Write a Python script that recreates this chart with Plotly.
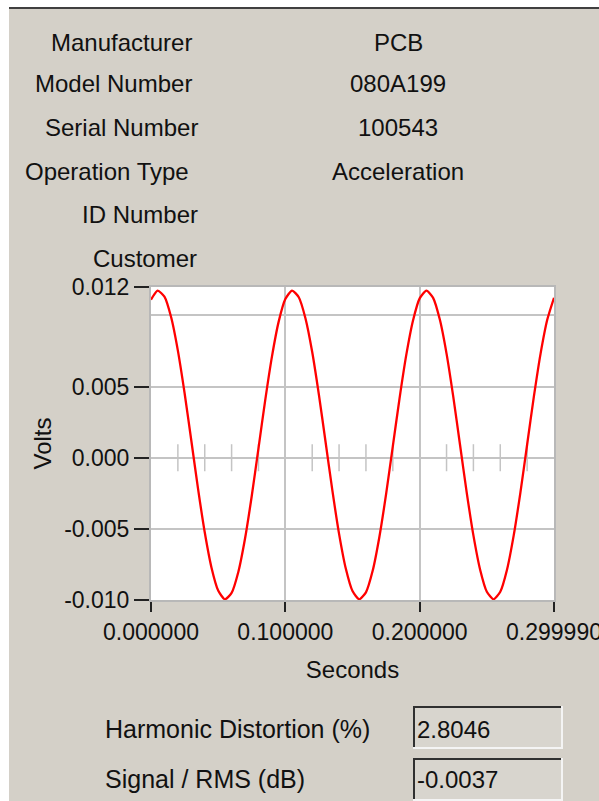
import plotly.graph_objects as go

# ---------------- data ----------------
info_labels = ["Manufacturer", "Model Number", "Serial Number", "Operation Type", "ID Number", "Customer"]
info_values = ["PCB", "080A199", "100543", "Acceleration", "", ""]

time_s = [round(i * 0.005, 3) for i in range(61)]
volts = [
    0.01111, 0.01174, 0.01132, 0.00987, 0.00753, 0.00455, 0.00121, -0.00217, -0.00524, -0.00771,
    -0.00933, -0.00995, -0.00950, -0.00803, -0.00568, -0.00269, 0.00066, 0.00403, 0.00709, 0.00955,
    0.01115, 0.01175, 0.01128, 0.00979, 0.00743, 0.00442, 0.00107, -0.00230, -0.00535, -0.00779,
    -0.00937, -0.00995, -0.00946, -0.00795, -0.00557, -0.00256, 0.00080, 0.00416, 0.00721, 0.00963,
    0.01120, 0.01175, 0.01124, 0.00971, 0.00732, 0.00429, 0.00093, -0.00243, -0.00546, -0.00787,
    -0.00942, -0.00995, -0.00942, -0.00787, -0.00546, -0.00243, 0.00093, 0.00429, 0.00732, 0.00971,
    0.01124,
]

x_tickvals = [0.0, 0.1, 0.2, 0.29999]
x_ticktext = ["0.000000", "0.100000", "0.200000", "0.299990"]
y_tickvals = [0.012, 0.005, 0.0, -0.005, -0.010]
y_ticktext = ["0.012", "0.005", "0.000", "-0.005", "-0.010"]
y_extra_grid = [0.010]
zero_marks_x = [0.02, 0.04, 0.06, 0.08, 0.12, 0.14, 0.16, 0.18, 0.22, 0.24, 0.26, 0.28]
zero_mark_half = 0.00095

result_labels = ["Harmonic Distortion (%)", "Signal / RMS (dB)"]
result_values = ["2.8046", "-0.0037"]

# ---------------- layout helpers ----------------
W, H = 599, 801
L, R, T, B = 151, 45, 287, 201
PW, PH = W - L - R, H - T - B
BG = "#d4d0c8"
FONT = "Liberation Sans"


def fx(px):
    return (px - L) / PW


def fy(py):
    return 1 - (py - T) / PH


fig = go.Figure()

# small marks on the zero line
zx, zy = [], []
for xv in zero_marks_x:
    zx += [xv, xv, None]
    zy += [-zero_mark_half, zero_mark_half, None]
fig.add_trace(go.Scatter(x=zx, y=zy, mode="lines", line=dict(color="#c4c4c4", width=1.5),
                         hoverinfo="skip", showlegend=False))

fig.add_trace(go.Scatter(x=time_s, y=volts, mode="lines",
                         line=dict(color="#ff0000", width=2.3, shape="spline", smoothing=0.6),
                         showlegend=False))

shapes = []
# window edges
shapes.append(dict(type="rect", xref="paper", yref="paper", x0=fx(0), x1=fx(W), y0=fy(0), y1=fy(7),
                   fillcolor="white", line=dict(width=0), layer="below"))
shapes.append(dict(type="rect", xref="paper", yref="paper", x0=fx(0), x1=fx(9), y0=fy(0), y1=fy(H),
                   fillcolor="white", line=dict(width=0), layer="below"))
shapes.append(dict(type="line", xref="paper", yref="paper", x0=fx(9), x1=fx(W), y0=fy(8), y1=fy(8),
                   line=dict(color="#404040", width=2)))

# result boxes
box_tops = [706, 758]
box_h = 43
for top in box_tops:
    x0, x1, y0, y1 = 413, 563, top, top + box_h
    shapes.append(dict(type="rect", xref="paper", yref="paper", x0=fx(x0), x1=fx(x1), y0=fy(y0), y1=fy(y1),
                       fillcolor="#d8d5ce", line=dict(width=0)))
    shapes.append(dict(type="line", xref="paper", yref="paper", x0=fx(x0), x1=fx(x1), y0=fy(y0 + 1), y1=fy(y0 + 1),
                       line=dict(color="#303030", width=2)))
    shapes.append(dict(type="line", xref="paper", yref="paper", x0=fx(x0 + 1), x1=fx(x0 + 1), y0=fy(y0), y1=fy(y1),
                       line=dict(color="#303030", width=2)))
    shapes.append(dict(type="line", xref="paper", yref="paper", x0=fx(x0), x1=fx(x1), y0=fy(y1 - 1), y1=fy(y1 - 1),
                       line=dict(color="#f4f4f4", width=2)))
    shapes.append(dict(type="line", xref="paper", yref="paper", x0=fx(x1 - 1), x1=fx(x1 - 1), y0=fy(y0), y1=fy(y1),
                       line=dict(color="#f4f4f4", width=2)))

annotations = []
label_right = [194, 194, 200, 191, 200, 199]
row_y = [42, 84, 127, 171, 214, 258]
for lab, val, xr, yy in zip(info_labels, info_values, label_right, row_y):
    annotations.append(dict(text=lab, xref="paper", yref="paper", x=fx(xr), y=fy(yy),
                            xanchor="right", yanchor="middle", showarrow=False,
                            font=dict(family=FONT, size=24, color="#111111")))
    if val:
        annotations.append(dict(text=val, xref="paper", yref="paper", x=fx(398), y=fy(yy),
                                xanchor="center", yanchor="middle", showarrow=False,
                                font=dict(family=FONT, size=24, color="#111111")))

res_y = [729, 779]
for lab, val, yy in zip(result_labels, result_values, res_y):
    annotations.append(dict(text=lab, xref="paper", yref="paper", x=fx(103), y=fy(yy),
                            xanchor="left", yanchor="middle", showarrow=False,
                            font=dict(family=FONT, size=25, color="#111111")))
    annotations.append(dict(text=val, xref="paper", yref="paper", x=fx(415), y=fy(yy),
                            xanchor="left", yanchor="middle", showarrow=False,
                            font=dict(family=FONT, size=24, color="#111111")))

fig.update_layout(
    width=W, height=H,
    margin=dict(l=L, r=R, t=T, b=B, autoexpand=False),
    paper_bgcolor=BG, plot_bgcolor="white",
    font=dict(family=FONT, size=23, color="#111111"),
    shapes=shapes, annotations=annotations,
    xaxis=dict(range=[0, 0.29999], tickmode="array", tickvals=x_tickvals, ticktext=x_ticktext,
               ticks="outside", ticklen=10, tickwidth=2, tickcolor="#222222",
               showgrid=True, gridcolor="#c4c4c4", gridwidth=2, zeroline=False,
               showline=True, linecolor="#b8b8b8", linewidth=2, mirror=True,
               ticklabelstandoff=0, ticklabeloverflow="allow",
               title=dict(text="Seconds", standoff=18, font=dict(family=FONT, size=24))),
    yaxis=dict(range=[-0.010, 0.012], tickmode="array", tickvals=y_tickvals, ticktext=y_ticktext,
               ticks="outside", ticklen=15, tickwidth=2, tickcolor="#222222",
               showgrid=True, gridcolor="#c4c4c4", gridwidth=2, zeroline=False,
               showline=True, linecolor="#b8b8b8", linewidth=2, mirror=True,
               minor=dict(tickmode="array", tickvals=y_extra_grid, showgrid=True,
                          gridcolor="#c4c4c4", gridwidth=2, ticks=""),
               title=dict(text="Volts", standoff=6, font=dict(family=FONT, size=24))),
)

fig.write_html("out.html", config={"displayModeBar": False},
               post_script="document.body.style.margin='0';document.body.style.overflow='hidden';")
